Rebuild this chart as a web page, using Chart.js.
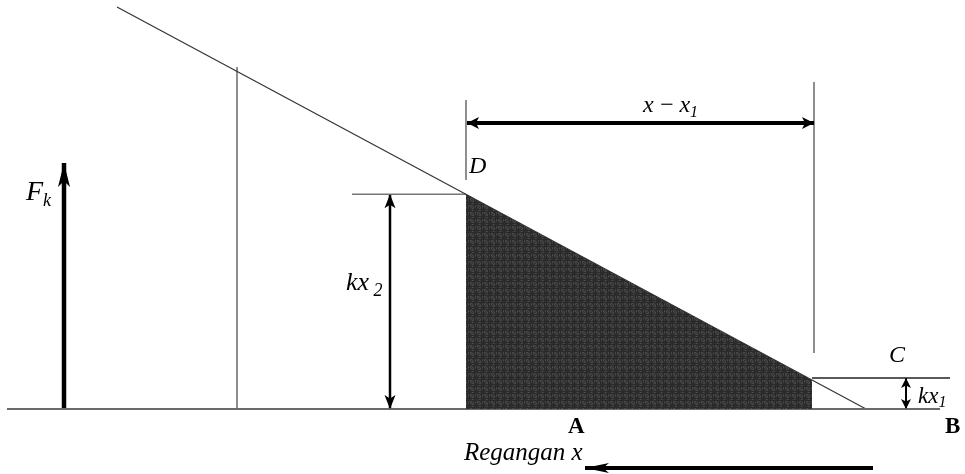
<!DOCTYPE html>
<html>
<head>
<meta charset="utf-8">
<script src="https://cdn.jsdelivr.net/npm/chart.js@4.4.0/dist/chart.umd.min.js"></script>
<style>
  body { margin: 0; background: #fff; }
  #wrap { width: 965px; height: 474px; }
</style>
</head>
<body>
<div id="wrap"><canvas id="springChart"></canvas></div>
<script>
// geometry in diagram units: x to the right, F upward from the strain axis
const forceLine = [{x: 117, y: 402}, {x: 866, y: 0}];
const strainAxis = [{x: 7, y: 0}, {x: 940, y: 0}];
const workArea = [{x: 466, y: 214.7}, {x: 812, y: 29}];
const guideX = [237, 466, 814];
const guideTop = [342, 309, 327];
const guideBottom = [0, 229, 56];
const level2 = [{x: 352, y: 214.7}, {x: 466, y: 214.7}];
const level1 = [{x: 812, y: 31}, {x: 950, y: 31}];

const fkArrow = [{x: 64, y: 0}, {x: 64, y: 246}];
const kx2Arrow = [{x: 390, y: 0}, {x: 390, y: 214.7}];
const kx1Arrow = [{x: 906, y: 0}, {x: 906, y: 31}];
const deltaArrow = [{x: 467, y: 286}, {x: 814, y: 286}];
const strainArrow = [{x: 873, y: -59}, {x: 585, y: -59}];

const labels = [
  {parts: [['F', 28, 0], ['k', 18, 6]], x: 26, y: 209, font: 'italic'},
  {parts: [['D', 24, 0]], x: 469, y: 236, font: 'italic'},
  {parts: [['kx', 26, 0], [' 2', 18, 6]], x: 346, y: 119, font: 'italic'},
  {parts: [['x\u2009\u2212\u2009x', 24, 0], ['1', 16, 5]], x: 643, y: 297, font: 'italic'},
  {parts: [['C', 24, 0]], x: 889, y: 47, font: 'italic'},
  {parts: [['kx', 23, 0], ['1', 16, 4]], x: 918, y: 6, font: 'italic'},
  {parts: [['A', 23, 0]], x: 568, y: -24, font: 'bold'},
  {parts: [['B', 23, 0]], x: 945, y: -24, font: 'bold'},
  {parts: [['Regangan x', 25, 0]], x: 464, y: -51, font: 'italic'}
];

function grain() {
  const c = document.createElement('canvas');
  c.width = 7; c.height = 7;
  const g = c.getContext('2d');
  const shades = ['#2a2a2a', '#363636', '#424242', '#303030', '#4c4c4c'];
  for (let i = 0; i < 7; i++) {
    for (let j = 0; j < 7; j++) {
      g.fillStyle = shades[(i * 3 + j * 5 + i * j * 2) % 5];
      g.fillRect(i, j, 1, 1);
    }
  }
  return g.createPattern(c, 'repeat');
}

function line(data, color, width, extra) {
  return Object.assign({
    data: data, borderColor: color, borderWidth: width,
    pointRadius: 0, showLine: true, fill: false, tension: 0
  }, extra || {});
}

const datasets = [
  line(workArea, 'rgba(0,0,0,0)', 0, {fill: {value: 0}, backgroundColor: grain()}),
  line(strainAxis, '#6a6a6a', 2),
  line(forceLine, '#333', 1.2),
  line(level2, '#777', 1.5),
  line(level1, '#222', 1.5),
  line(fkArrow, '#000', 4.5, {arrow: 'end', head: [24, 12]}),
  line(kx2Arrow, '#000', 2.5, {arrow: 'both', head: [14, 11]}),
  line(kx1Arrow, '#000', 2, {arrow: 'both', head: [10, 10]}),
  line(deltaArrow, '#000', 4, {arrow: 'both', head: [12, 12]}),
  line(strainArrow, '#000', 4, {arrow: 'end', head: [24, 10]})
];
guideX.forEach((gx, i) => {
  datasets.push(line([{x: gx, y: guideBottom[i]}, {x: gx, y: guideTop[i]}], '#444', 1.2));
});

const arrowHeads = {
  id: 'arrowHeads',
  afterDatasetsDraw(chart) {
    const ctx = chart.ctx;
    const xs = chart.scales.x, ys = chart.scales.y;
    chart.data.datasets.forEach(ds => {
      if (!ds.arrow) return;
      const p0 = {x: xs.getPixelForValue(ds.data[0].x), y: ys.getPixelForValue(ds.data[0].y)};
      const p1 = {x: xs.getPixelForValue(ds.data[1].x), y: ys.getPixelForValue(ds.data[1].y)};
      const ends = ds.arrow === 'both' ? [[p0, p1], [p1, p0]] : [[p0, p1]];
      ends.forEach(([from, tip]) => {
        const a = Math.atan2(tip.y - from.y, tip.x - from.x);
        const [len, wid] = ds.head;
        ctx.save();
        ctx.translate(tip.x, tip.y);
        ctx.rotate(a);
        ctx.beginPath();
        ctx.moveTo(0, 0);
        ctx.lineTo(-len, -wid / 2);
        ctx.lineTo(-len * 0.75, 0);
        ctx.lineTo(-len, wid / 2);
        ctx.closePath();
        ctx.fillStyle = '#000';
        ctx.fill();
        ctx.restore();
      });
    });
  }
};

const diagramText = {
  id: 'diagramText',
  afterDraw(chart) {
    const ctx = chart.ctx;
    const xs = chart.scales.x, ys = chart.scales.y;
    ctx.save();
    ctx.fillStyle = '#000';
    ctx.textBaseline = 'alphabetic';
    labels.forEach(l => {
      let px = xs.getPixelForValue(l.x);
      const py = ys.getPixelForValue(l.y);
      l.parts.forEach(([txt, size, drop]) => {
        ctx.font = l.font + ' ' + size + 'px "Liberation Serif", "DejaVu Serif", serif';
        ctx.fillText(txt, px, py + drop);
        px += ctx.measureText(txt).width;
      });
    });
    ctx.restore();
  }
};

const config = {
  type: 'line',
  data: {datasets: datasets},
  options: {
    responsive: true,
    maintainAspectRatio: false,
    animation: false,
    layout: {padding: 0},
    scales: {
      x: {type: 'linear', min: 0, max: 965, display: false},
      y: {type: 'linear', min: -65, max: 409, display: false}
    },
    plugins: {
      legend: {display: false},
      tooltip: {enabled: false}
    }
  },
  plugins: [arrowHeads, diagramText]
};

const ctx = document.getElementById('springChart').getContext('2d');
const springChart = new Chart(ctx, config);
</script>
</body>
</html>
